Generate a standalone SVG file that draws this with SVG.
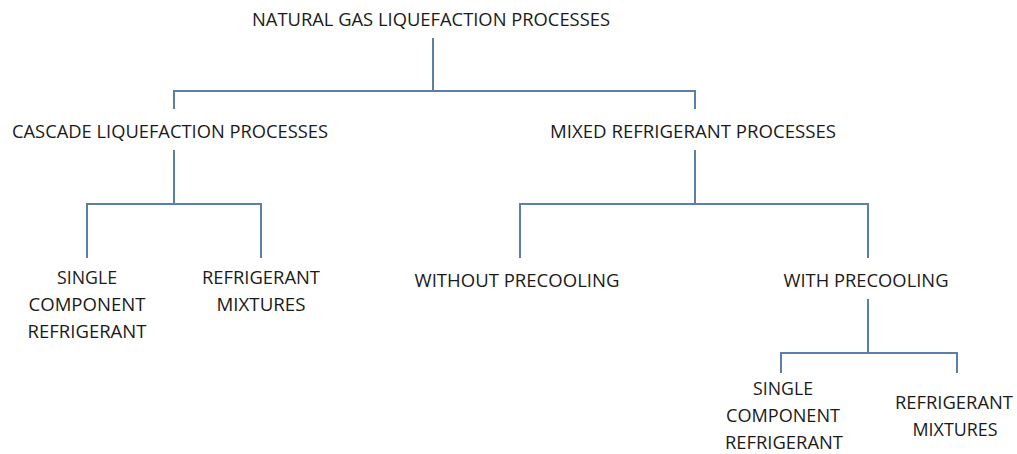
<svg xmlns="http://www.w3.org/2000/svg" width="1017" height="454" viewBox="0 0 1017 454">
<style>
text{font-family:"Open Sans","Liberation Sans",sans-serif;font-size:18px;fill:#1a1a1a;text-anchor:middle}
.c line{stroke:#5b7fa8;stroke-width:2;stroke-linecap:square}
</style>
<rect width="1017" height="454" fill="#fff"/>
<g class="c" id="connectors">
<line x1="433" y1="39" x2="433" y2="91"/>
<line x1="174" y1="91" x2="695" y2="91"/>
<line x1="174" y1="91" x2="174" y2="108"/>
<line x1="695" y1="91" x2="695" y2="108"/>
<line x1="174" y1="151" x2="174" y2="204"/>
<line x1="87" y1="204" x2="261" y2="204"/>
<line x1="87" y1="204" x2="87" y2="257"/>
<line x1="261" y1="204" x2="261" y2="257"/>
<line x1="695" y1="151" x2="695" y2="204"/>
<line x1="520" y1="204" x2="868" y2="204"/>
<line x1="520" y1="204" x2="520" y2="257"/>
<line x1="868" y1="204" x2="868" y2="257"/>
<line x1="868" y1="300" x2="868" y2="353"/>
<line x1="781" y1="353" x2="957" y2="353"/>
<line x1="781" y1="353" x2="781" y2="372"/>
<line x1="957" y1="353" x2="957" y2="372"/>
</g>
<g id="root"><text x="431" y="26" textLength="358" lengthAdjust="spacingAndGlyphs">NATURAL GAS LIQUEFACTION PROCESSES</text></g>
<g id="cascade"><text x="170" y="138" textLength="316" lengthAdjust="spacingAndGlyphs">CASCADE LIQUEFACTION PROCESSES</text></g>
<g id="mixed"><text x="693" y="138" textLength="286" lengthAdjust="spacingAndGlyphs">MIXED REFRIGERANT PROCESSES</text></g>
<g id="cascade-single">
<text x="87" y="284" textLength="60" lengthAdjust="spacingAndGlyphs">SINGLE</text>
<text x="87" y="311" textLength="117" lengthAdjust="spacingAndGlyphs">COMPONENT</text>
<text x="87" y="338" textLength="119" lengthAdjust="spacingAndGlyphs">REFRIGERANT</text>
</g>
<g id="cascade-mixtures">
<text x="261" y="284" textLength="118" lengthAdjust="spacingAndGlyphs">REFRIGERANT</text>
<text x="261" y="311" textLength="89" lengthAdjust="spacingAndGlyphs">MIXTURES</text>
</g>
<g id="without"><text x="517" y="287" textLength="205" lengthAdjust="spacingAndGlyphs">WITHOUT PRECOOLING</text></g>
<g id="with"><text x="866" y="287" textLength="165" lengthAdjust="spacingAndGlyphs">WITH PRECOOLING</text></g>
<g id="with-single">
<text x="783" y="395" textLength="60" lengthAdjust="spacingAndGlyphs">SINGLE</text>
<text x="783" y="422" textLength="114" lengthAdjust="spacingAndGlyphs">COMPONENT</text>
<text x="784" y="449" textLength="118" lengthAdjust="spacingAndGlyphs">REFRIGERANT</text>
</g>
<g id="with-mixtures">
<text x="954" y="409" textLength="118" lengthAdjust="spacingAndGlyphs">REFRIGERANT</text>
<text x="955" y="436" textLength="85" lengthAdjust="spacingAndGlyphs">MIXTURES</text>
</g>
</svg>
